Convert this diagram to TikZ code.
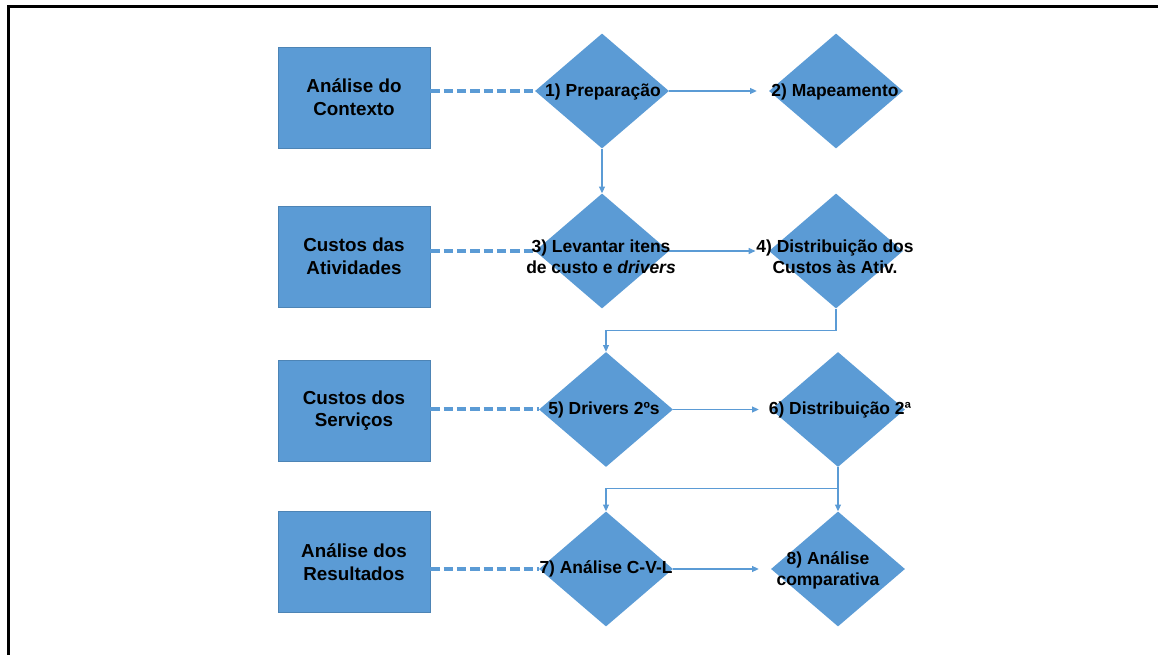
\documentclass[tikz,border=0pt]{standalone}
\usepackage{fontspec}
\setmainfont{Liberation Sans}
\usetikzlibrary{shapes.geometric,arrows.meta}
\definecolor{fillblue}{HTML}{5B9BD5}
\definecolor{lineblue}{HTML}{5B9BD5}
\begin{document}
\begin{tikzpicture}[x=0.75pt,y=-0.75pt,
  box/.style={rectangle, fill=fillblue, draw=fillblue!85!black, line width=0.4pt,
    minimum width=114pt, minimum height=75.75pt, inner sep=0pt, align=center,
    font=\fontsize{14.1}{17}\selectfont\bfseries},
  dia/.style={diamond, fill=fillblue, minimum width=100.5pt, minimum height=86.25pt, inner sep=0pt},
  dtext/.style={align=center, inner sep=0pt, font=\fontsize{13.1}{15.75}\selectfont\bfseries},
  dashline/.style={lineblue, line width=3pt, dash pattern=on 7pt off 3pt},
  flow/.style={lineblue, line width=0.8pt, -{Triangle[length=5pt,width=4.5pt]}}]
\useasboundingbox (0,0) rectangle (1158,655);
\draw[line width=2.2pt] (8.7,656) -- (8.7,6.5) -- (1159,6.5);
% boxes
\node[box] (b1) at (354,97.5) {Análise do\\Contexto};
\node[box] (b2) at (354,256.5) {Custos das\\Atividades};
\node[box] (b3) at (354,410.5) {Custos dos\\Serviços};
\node[box] (b4) at (354,562) {Análise dos\\Resultados};
% diamonds
\node[dia] (d1) at (602,91) {};
\node[dia] (d2) at (836,91) {};
\node[dia] (d3) at (602,251) {};
\node[dia] (d4) at (836,251) {};
\node[dia] (d5) at (606,409.5) {};
\node[dia] (d6) at (838,409.5) {};
\node[dia] (d7) at (606,569) {};
\node[dia] (d8) at (838,569) {};
% dashed links
\draw[dashline] (b1.east |- d1.west) -- (d1.west);
\draw[dashline] (b2.east |- d3.west) -- (d3.west);
\draw[dashline] (b3.east |- d5.west) -- (d5.west);
\draw[dashline] (b4.east |- d7.west) -- (d7.west);
% flow arrows
\draw[flow, shorten >=9pt] (d1.east) -- (d2.west);
\draw[flow, shorten >=10pt] (d3.east) -- (d4.west);
\draw[flow, shorten >=9pt] (d5.east) -- (d6.west);
\draw[flow, shorten >=9pt] (d7.east) -- (d8.west);
\draw[flow] (d1.south) -- (d3.north);
\draw[flow] (d4.south) -- ++(0,22) -| (d5.north);
\draw[flow] (d6.south) -- ++(0,21) -| (d7.north);
\draw[flow] (d6.south) -- (d8.north);
% texts
\node[dtext] (t1) at (603,92) {1) Preparação};
\node[dtext] (t2) at (835,92) {2) Mapeamento};
\node[dtext] (t3) at (601,257) {3) Levantar itens\\de custo e \textit{drivers}};
\node[dtext] (t4) at (835,257) {4) Distribuição dos\\Custos às Ativ.};
\node[dtext] (t5) at (604,410) {5) Drivers 2ºs};
\node[dtext] (t6) at (840,410) {6) Distribuição 2ª};
\node[dtext] (t7) at (606,569) {7) Análise C-V-L};
\node[dtext] (t8) at (828,570) {8) Análise\\comparativa};
\end{tikzpicture}
\end{document}
